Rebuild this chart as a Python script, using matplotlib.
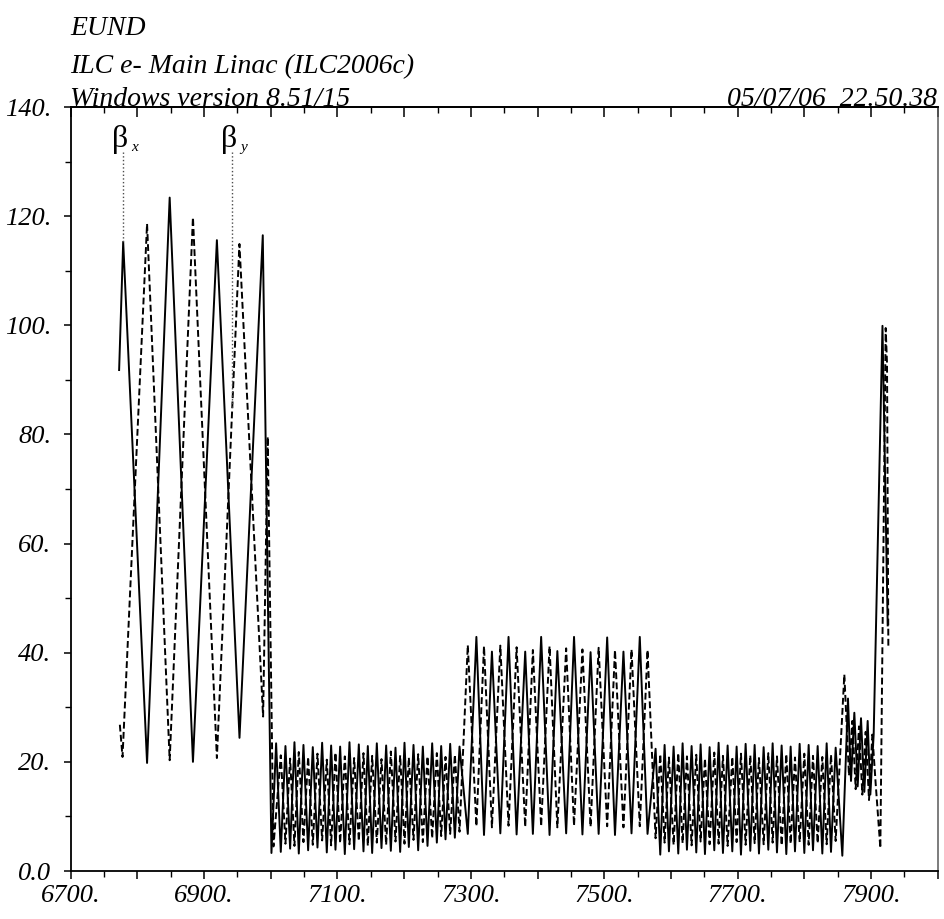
import numpy as np
import matplotlib.pyplot as plt
from matplotlib.ticker import MultipleLocator

plt.rcParams['font.family'] = ['Liberation Serif', 'DejaVu Serif']

# header / labels
header = ['EUND', 'ILC e- Main Linac (ILC2006c)', 'Windows version 8.51/15']
stamp = '05/07/06  22.50.38'
x_labels = [6700, 6900, 7100, 7300, 7500, 7700, 7900]
y_labels = [0, 20, 40, 60, 80, 100, 120, 140]

# beta_x (solid) -- vertices, section by section
bx_s_left = [6772.6, 6778.7, 6814.5, 6848.4, 6883.3, 6919.2, 6953.1, 6988.0, 7001.0]
bx_v_left = [91.8, 115.3, 19.8, 123.4, 20.0, 115.6, 24.4, 116.5, 3.3]

bx_s_d1 = [7008, 7015, 7022, 7029, 7035.5, 7042, 7049, 7056, 7063, 7070, 7077, 7084,
           7090.5, 7097, 7104, 7111, 7118, 7125, 7132, 7139, 7145.5, 7152, 7159, 7166,
           7173, 7180, 7187, 7194, 7200.5, 7207, 7214, 7221, 7228, 7235, 7242, 7249,
           7255.5, 7262, 7269, 7276, 7283]
bx_v_d1 = [23.4, 3.5, 22.9, 4.1, 23.6, 3.2, 23.1, 3.8, 22.7, 4.3, 23.5, 3.4, 23.0, 3.9,
           22.8, 3.1, 23.6, 4.0, 23.2, 3.6, 22.9, 3.3, 23.4, 4.2, 23.0, 3.7, 22.6, 3.5,
           23.5, 4.4, 23.1, 3.8, 22.8, 4.6, 23.4, 5.2, 22.9, 5.8, 23.3, 6.1, 22.8]

bx_s_mid = [7295.4, 7308.3, 7319.7, 7331.6, 7344.2, 7356.5, 7368.6, 7381.5, 7393.0,
            7405.4, 7418.0, 7429.7, 7442.9, 7454.7, 7467.3, 7479.5, 7491.6, 7504.4,
            7516.1, 7528.8, 7540.9, 7553.3, 7564.9]
bx_v_mid = [6.8, 42.9, 6.6, 40.2, 6.9, 42.9, 6.7, 40.2, 6.8, 42.9, 6.6, 40.3, 6.9, 42.9,
            6.7, 40.1, 6.8, 42.8, 6.6, 40.2, 6.9, 42.9, 6.8]

bx_s_d2 = [7577, 7584, 7590.5, 7597, 7604, 7611, 7617.5, 7624, 7631, 7638, 7644.5, 7651,
           7658, 7665, 7671.5, 7678, 7685, 7692, 7698.5, 7705, 7712, 7719, 7725.5, 7732,
           7739, 7746, 7752.5, 7759, 7766, 7773, 7779.5, 7786, 7793, 7800, 7806.5, 7813,
           7820, 7827, 7833.5, 7840, 7847, 7857]
bx_v_d2 = [22.4, 3.0, 23.1, 3.6, 22.8, 3.2, 23.4, 3.9, 22.9, 3.4, 23.2, 3.1, 22.7, 3.8,
           23.5, 3.3, 23.0, 3.6, 22.8, 3.0, 23.3, 3.7, 23.1, 3.2, 22.7, 3.9, 23.4, 3.4,
           23.0, 3.1, 22.8, 3.6, 23.3, 3.3, 23.1, 3.8, 22.9, 3.2, 23.4, 3.5, 22.6, 2.8]

bx_s_end = [7865.5, 7870, 7875, 7880, 7885, 7890, 7895, 7899, 7904, 7917.2, 7925]
bx_v_end = [31.6, 16.5, 29.0, 15.5, 28.0, 14.5, 27.5, 14.0, 25.0, 99.9, 45.0]

# beta_y (dashed)
by_s_left = [6773.7, 6777.7, 6814.5, 6848.4, 6883.3, 6919.2, 6953.0, 6988.5, 6995.4, 7004]
by_v_left = [26.8, 20.9, 118.6, 20.3, 119.8, 20.7, 114.9, 28.3, 79.6, 4.5]

by_s_d1 = [7015, 7022, 7029, 7035.5, 7042, 7049, 7056, 7063, 7070, 7077, 7084, 7090.5,
           7097, 7104, 7111, 7118, 7125, 7132, 7139, 7145.5, 7152, 7159, 7166, 7173,
           7180, 7187, 7194, 7200.5, 7207, 7214, 7221, 7228, 7235, 7242, 7249, 7255.5,
           7262, 7269, 7276, 7283]
by_v_d1 = [21.2, 5.0, 20.6, 4.6, 21.8, 5.3, 20.9, 4.8, 21.5, 5.6, 20.4, 4.7, 21.7, 5.1,
           21.0, 4.9, 20.7, 5.5, 21.6, 4.6, 21.1, 5.2, 20.5, 4.8, 21.9, 5.4, 21.2, 5.0,
           20.8, 5.7, 21.4, 5.3, 21.0, 6.0, 21.6, 6.4, 20.9, 6.8, 21.3, 7.2]

by_s_mid = [7295.4, 7308.3, 7319.7, 7331.6, 7344.2, 7356.5, 7368.6, 7381.5, 7393.0,
            7405.4, 7418.0, 7429.7, 7442.9, 7454.7, 7467.3, 7479.5, 7491.6, 7504.4,
            7516.1, 7528.8, 7540.9, 7553.3, 7564.9]
by_v_mid = [41.4, 8.2, 41.2, 8.0, 41.3, 8.3, 41.0, 8.1, 40.5, 8.2, 41.2, 8.0, 40.8, 8.3,
            40.6, 8.1, 40.9, 8.2, 40.5, 8.0, 40.6, 8.2, 40.5]

by_s_d2 = [7577, 7584, 7590.5, 7597, 7604, 7611, 7617.5, 7624, 7631, 7638, 7644.5, 7651,
           7658, 7665, 7671.5, 7678, 7685, 7692, 7698.5, 7705, 7712, 7719, 7725.5, 7732,
           7739, 7746, 7752.5, 7759, 7766, 7773, 7779.5, 7786, 7793, 7800, 7806.5, 7813,
           7820, 7827, 7833.5, 7840, 7847]
by_v_d2 = [6.0, 21.4, 5.2, 20.8, 4.8, 21.6, 5.1, 21.0, 4.7, 21.3, 5.4, 20.6, 4.9, 21.7,
           5.0, 21.1, 4.6, 20.9, 5.3, 21.5, 4.8, 21.2, 5.1, 20.7, 4.9, 21.6, 5.2, 21.0,
           4.7, 21.4, 5.0, 20.8, 5.3, 21.5, 4.8, 21.1, 5.1, 20.9, 4.9, 21.3, 5.5]

by_s_end = [7860, 7867, 7872, 7877, 7882, 7887, 7892, 7897, 7902, 7907, 7914, 7922, 7924, 7926]
by_v_end = [36.0, 17.5, 27.5, 15.0, 26.5, 14.0, 25.5, 13.0, 25.0, 16.0, 4.2, 99.5, 93.0, 41.0]

# where the beta labels point
mark_s = {'x': 6778.7, 'y': 6942.2}

s_x = np.concatenate([bx_s_left, bx_s_d1, bx_s_mid, bx_s_d2, bx_s_end])
beta_x = np.concatenate([bx_v_left, bx_v_d1, bx_v_mid, bx_v_d2, bx_v_end])
s_y = np.concatenate([by_s_left, by_s_d1, by_s_mid, by_s_d2, by_s_end])
beta_y = np.concatenate([by_v_left, by_v_d1, by_v_mid, by_v_d2, by_v_end])

fig = plt.figure(figsize=(9.44, 9.19), dpi=100)
ax = fig.add_axes([70.7 / 944, 48 / 919, 867 / 944, 764 / 919])

ax.plot(s_x, beta_x, color='black', lw=1.4)
ax.plot(s_y, beta_y, color='black', lw=1.4, dashes=(3.5, 1.7))

# beta labels with dotted pointers
for key, s, curve_s, curve_v in [('x', mark_s['x'], s_x, beta_x),
                                 ('y', mark_s['y'], s_y, beta_y)]:
    v = np.interp(s, curve_s, curve_v)
    ax.plot([s, s], [131.8, v], ls=':', lw=1.0, color='0.3')
    ax.text(s - 5, 132.6, 'β', fontsize=23, ha='center', va='baseline')
    ax.text(s + 12, 132.0, key, fontsize=11, style='italic', ha='left', va='baseline')

ax.set_xlim(6700, 8000)
ax.set_ylim(0, 140)

xt = np.arange(6700, 8001, 100)
ax.set_xticks(xt)
ax.set_xticklabels([f'{t}.' if t in x_labels else '' for t in xt])
ax.xaxis.set_minor_locator(MultipleLocator(50))
ax.set_yticks(y_labels)
ax.set_yticklabels(['0.0' if t == 0 else f'{t}.' for t in y_labels])
ax.yaxis.set_minor_locator(MultipleLocator(10))

ax.tick_params(axis='x', which='major', direction='out', length=6, width=1.1,
               labelsize=19, pad=4, top=False)
ax.tick_params(axis='x', which='minor', direction='out', length=4, width=1.0, top=False)
ax.tick_params(axis='y', which='major', direction='out', length=5, width=1.1,
               labelsize=19, pad=9, right=False)
ax.tick_params(axis='y', which='minor', direction='out', length=4, width=1.0, right=False)
for lbl in ax.get_xticklabels() + ax.get_yticklabels():
    lbl.set_fontstyle('italic')

top = ax.secondary_xaxis('top')
top.set_xticks(xt)
top.set_xticklabels([])
top.xaxis.set_minor_locator(MultipleLocator(50))
top.tick_params(which='major', direction='in', length=7, width=1.1)
top.tick_params(which='minor', direction='in', length=4, width=1.0)
top.spines['top'].set_linewidth(1.3)

for side in ['left', 'bottom', 'top']:
    ax.spines[side].set_linewidth(1.3)
ax.spines['right'].set_linewidth(1.1)
ax.spines['right'].set_color('0.35')

# header text
fig.text(70 / 944, 1 - 35 / 919, header[0], fontsize=20, style='italic', va='baseline')
fig.text(70 / 944, 1 - 73 / 919, header[1], fontsize=20, style='italic', va='baseline')
fig.text(70 / 944, 1 - 106 / 919, header[2], fontsize=20, style='italic', va='baseline')
fig.text(937 / 944, 1 - 106 / 919, stamp, fontsize=20, style='italic', ha='right',
         va='baseline')

fig.savefig('out.png', dpi=100)
